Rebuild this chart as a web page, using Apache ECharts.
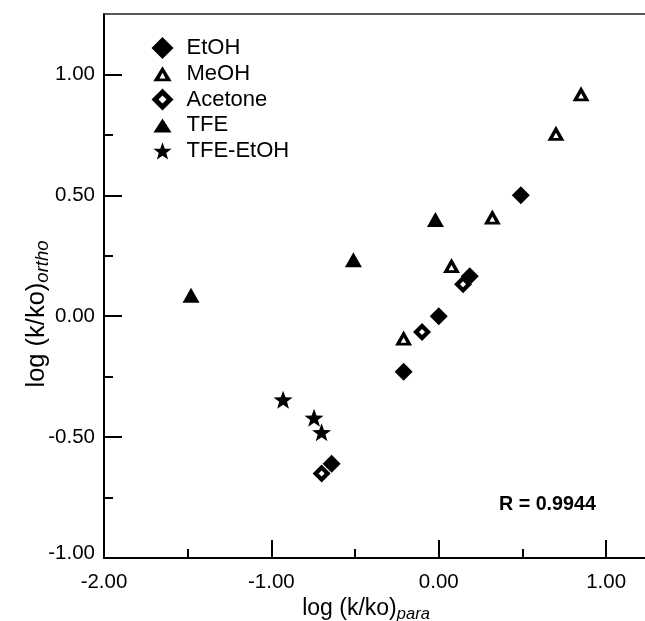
<!DOCTYPE html>
<html><head><meta charset="utf-8">
<script src="https://cdn.jsdelivr.net/npm/echarts@6/dist/echarts.min.js"></script>
<style>html,body{margin:0;padding:0;background:#fff}#c{width:645px;height:621px}</style>
</head><body><div id="c"></div>
<script>
// ---- data ----
const seriesNames = ['EtOH', 'MeOH', 'Acetone', 'TFE', 'TFE-EtOH'];
const etoh    = [[0.49, 0.50], [0.185, 0.165], [0.00, 0.00], [-0.21, -0.23], [-0.64, -0.61]];
const meoh    = [[0.85, 0.92], [0.70, 0.757], [0.32, 0.41], [0.076, 0.21], [-0.21, -0.09]];
const acetone = [[0.145, 0.132], [-0.10, -0.065], [-0.70, -0.65]];
const tfe     = [[-0.02, 0.40], [-0.51, 0.234], [-1.48, 0.087]];
const tfeEtoh = [[-0.93, -0.345], [-0.745, -0.42], [-0.70, -0.48]];
const xRange = [-2, 1.25];
const yRange = [-1, 1.25];
const xMajor = [-2, -1, 0, 1];
const xMinor = [-1.5, -0.5, 0.5];
const yMajor = [-1, -0.5, 0, 0.5, 1];
const yMinor = [-0.75, -0.25, 0.25, 0.75];
const xName = ['log (k/ko)', 'para'];
const yName = ['log (k/ko)', 'ortho'];
const rLabel = 'R = 0.9944';

// ---- symbol shapes ----
const FONT = 'Liberation Sans, Arial, Helvetica, sans-serif';
function starPts(cx, cy, R, r) {
  let s = '';
  for (let i = 0; i < 10; i++) {
    const a = (-90 + i * 36) * Math.PI / 180;
    const rad = i % 2 === 0 ? R : r;
    s += (i === 0 ? 'M' : 'L') + (cx + rad * Math.cos(a)).toFixed(3) + ',' + (cy + rad * Math.sin(a)).toFixed(3);
  }
  return s + 'Z';
}
const starSym = 'path://' + starPts(10, 10, 10, 4.1);
const openTri = 'path://M8.5,0L17,15L0,15ZM8.5,7L5.6,12.2L11.4,12.2Z';
const openDia = 'path://M9,0L18,9L9,18L0,9ZM9,6L6,9L9,12L12,9Z';
// legend icons in a 22x22 box (corner points keep the box)
const box = 'M0,0L0,0M22,22L22,22';
const legOpenTri = 'path://' + box + 'M11,3.5L20.2,18.5L1.8,18.5ZM11,10L8,15.6L14,15.6Z';
const legTri = 'path://' + box + 'M11,4L20,18L2,18Z';
const legOpenDia = 'path://M11,0L22,11L11,22L0,11ZM11,7L7,11L11,15L15,11Z';
const legStar = 'path://' + box + starPts(11, 11.6, 9.6, 3.9);

const black = '#000';
function sc(name, data, symbol, size) {
  return {
    type: 'scatter', name, data, symbol, symbolSize: size,
    xAxisIndex: 0, yAxisIndex: 0,
    itemStyle: { color: black, opacity: 1 },
    emphasis: { disabled: true }, silent: true
  };
}
const axisLineStyle = { color: black, width: 2 };
const labelFont = { fontSize: 20.5, color: black, fontFamily: FONT };

const chart = echarts.init(document.getElementById('c'), null, { renderer: 'canvas' });
chart.setOption({
  animation: false,
  backgroundColor: '#fff',
  textStyle: { fontFamily: FONT, color: black },
  grid: { left: 104, right: -3, top: 14, bottom: 63, outerBoundsMode: 'none', containLabel: false },
  legend: {
    orient: 'vertical', left: 151.5, top: 37, padding: 0,
    itemWidth: 22, itemHeight: 22, itemGap: 3.8,
    selectedMode: false,
    textStyle: { fontSize: 22, fontFamily: FONT, color: black, padding: [0, 0, 0, 8] },
    data: [
      { name: seriesNames[0], icon: 'diamond' },
      { name: seriesNames[1], icon: legOpenTri },
      { name: seriesNames[2], icon: legOpenDia },
      { name: seriesNames[3], icon: legTri },
      { name: seriesNames[4], icon: legStar }
    ]
  },
  xAxis: [
    {
      type: 'value', position: 'bottom', min: xRange[0], max: xRange[1],
      axisLine: { onZero: false, lineStyle: axisLineStyle },
      axisTick: { inside: true, length: 18, lineStyle: axisLineStyle, customValues: xMajor },
      axisLabel: Object.assign({ margin: 14, customValues: xMajor, formatter: v => v.toFixed(2) }, labelFont),
      splitLine: { show: false },
      name: '{a|' + xName[0] + '}{b|' + xName[1] + '}',
      nameLocation: 'middle', nameGap: 37, nameMoveOverlap: false,
      nameTextStyle: {
        padding: [0, 20, 0, 0],
        rich: {
          a: { fontSize: 23, lineHeight: 28, fontFamily: FONT, color: black },
          b: { fontSize: 16.5, lineHeight: 15, fontStyle: 'italic', verticalAlign: 'bottom', fontFamily: FONT, color: black }
        }
      }
    },
    {
      type: 'value', position: 'bottom', min: xRange[0], max: xRange[1],
      axisLine: { show: false, onZero: false },
      axisTick: { inside: true, length: 9, lineStyle: axisLineStyle, customValues: xMinor },
      axisLabel: { show: false }, splitLine: { show: false }
    },
    {
      type: 'value', position: 'top', min: xRange[0], max: xRange[1],
      axisLine: { onZero: false, lineStyle: { color: '#222', width: 1.5 } },
      axisTick: { show: false }, axisLabel: { show: false }, splitLine: { show: false }
    }
  ],
  yAxis: [
    {
      type: 'value', position: 'left', min: yRange[0], max: yRange[1],
      axisLine: { onZero: false, lineStyle: axisLineStyle },
      axisTick: { inside: true, length: 18, lineStyle: axisLineStyle, customValues: yMajor },
      axisLabel: Object.assign({
        margin: 9, customValues: yMajor,
        formatter: v => (v === yRange[0] ? '{lo|' + v.toFixed(2) + '}' : v.toFixed(2)),
        rich: { lo: Object.assign({ padding: [0, 0, 10, 0] }, labelFont) }
      }, labelFont),
      splitLine: { show: false },
      name: '{a|' + yName[0] + '}{b|' + yName[1] + '}',
      nameLocation: 'middle', nameGap: 52, nameRotate: 90, nameMoveOverlap: false,
      nameTextStyle: {
        padding: [0, 56, 0, 0],
        rich: {
          a: { fontSize: 25.5, lineHeight: 30, fontFamily: FONT, color: black },
          b: { fontSize: 18.5, lineHeight: 16, fontStyle: 'italic', verticalAlign: 'bottom', fontFamily: FONT, color: black }
        }
      }
    },
    {
      type: 'value', position: 'left', min: yRange[0], max: yRange[1],
      axisLine: { show: false, onZero: false },
      axisTick: { inside: true, length: 9, lineStyle: axisLineStyle, customValues: yMinor },
      axisLabel: { show: false }, splitLine: { show: false }
    }
  ],
  graphic: [
    {
      type: 'text', x: 499, y: 505, silent: true,
      style: { text: rLabel, fontSize: 19.7, fontWeight: 'bold', fontFamily: FONT, fill: black, align: 'left', verticalAlign: 'middle' }
    }
  ],
  series: [
    sc(seriesNames[0], etoh, 'diamond', 18),
    sc(seriesNames[1], meoh, openTri, [17, 15]),
    sc(seriesNames[2], acetone, openDia, 18),
    sc(seriesNames[3], tfe, 'triangle', [17, 15]),
    sc(seriesNames[4], tfeEtoh, starSym, [19, 18])
  ]
});
</script>
</body></html>
